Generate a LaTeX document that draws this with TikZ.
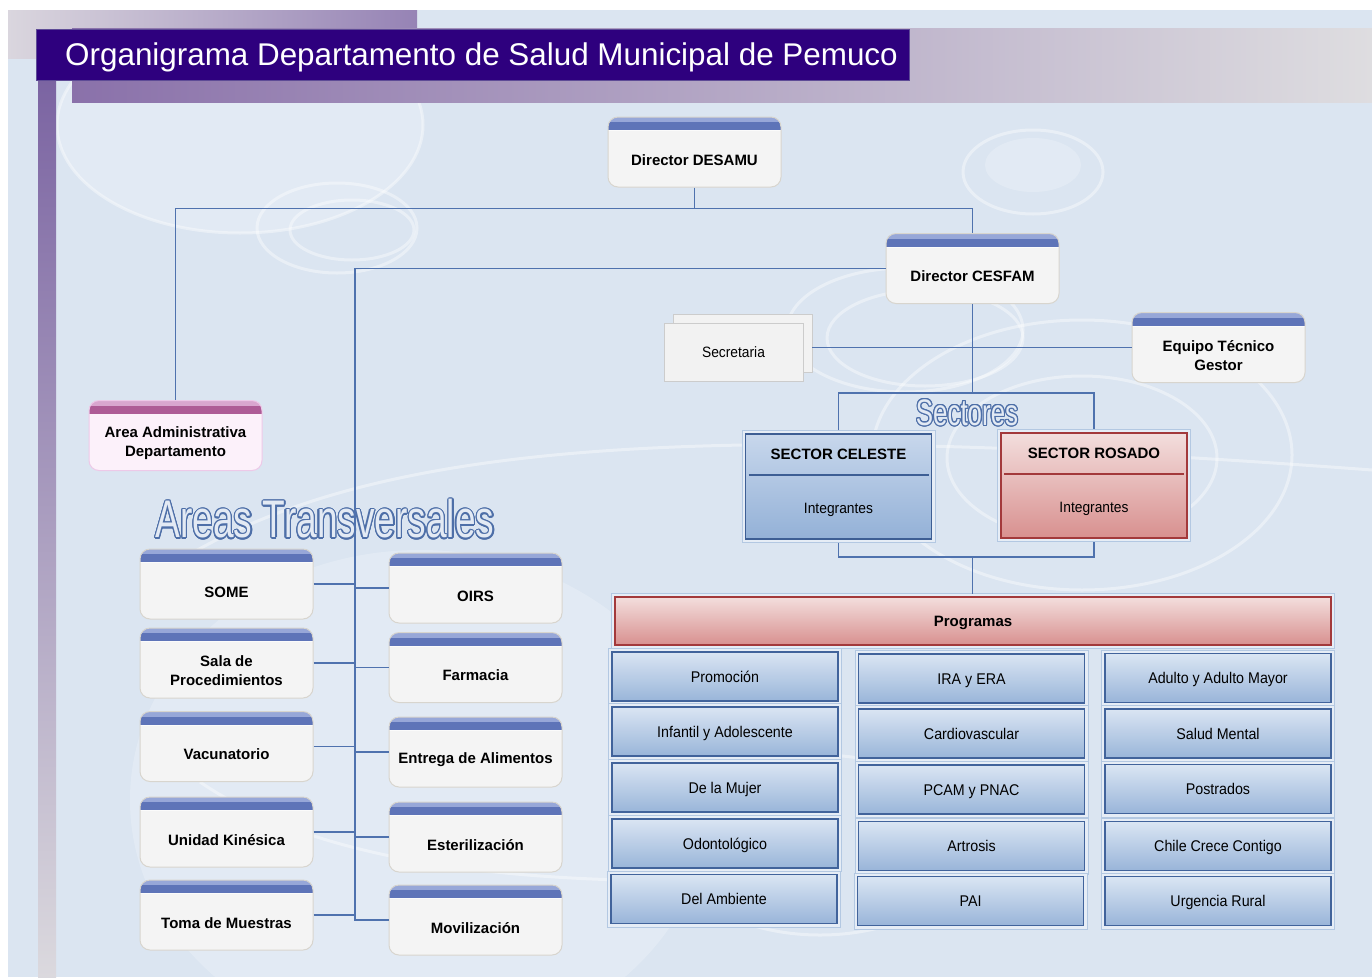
\documentclass[tikz,border=0pt]{standalone}
\usepackage{fontspec}
\setmainfont{Liberation Sans}
\newfontfamily\condfont[FakeStretch=0.7]{Liberation Sans}
\newfontfamily\progfont[FakeStretch=0.92]{Liberation Sans}
\usepackage{xcolor}

\definecolor{pagebg}{HTML}{DBE5F1}
\definecolor{bandgrey}{HTML}{DAD6DE}
\definecolor{bandpurple}{HTML}{9683B5}
\definecolor{bandpurplb}{HTML}{8A71AA}
\definecolor{bandgreyb}{HTML}{DEDDE0}
\definecolor{barpurple}{HTML}{7B64A2}
\definecolor{bargrey}{HTML}{DBD9DE}
\definecolor{titlefill}{HTML}{2E007E}
\definecolor{titleedge}{HTML}{5E4B96}
\definecolor{linkblue}{HTML}{4F72AE}
\definecolor{boxfill}{HTML}{F4F4F4}
\definecolor{boxedge}{HTML}{D8D5CE}
\definecolor{hdrtop}{HTML}{97A7D8}
\definecolor{hdrbot}{HTML}{5E74B8}
\definecolor{adminfill}{HTML}{FCF1FA}
\definecolor{adminedge}{HTML}{EDC9E8}
\definecolor{admintop}{HTML}{D9A6CF}
\definecolor{adminbot}{HTML}{AE5C96}
\definecolor{secfill}{HTML}{F2F2F2}
\definecolor{secedge}{HTML}{CCCCCC}
\definecolor{celestetop}{HTML}{C8D7EC}
\definecolor{celestebot}{HTML}{93B1D7}
\definecolor{celesteedge}{HTML}{3D5E94}
\definecolor{rosadotop}{HTML}{F3DEDD}
\definecolor{rosadobot}{HTML}{D8908F}
\definecolor{rosadoedge}{HTML}{A3393B}
\definecolor{progtop}{HTML}{DAE5F3}
\definecolor{progbot}{HTML}{99B5D9}
\definecolor{progedge}{HTML}{41639B}
\definecolor{framedge}{HTML}{B3C8E2}
\definecolor{framefill}{HTML}{E6EDF6}
\definecolor{outlineblue}{HTML}{4E6FA8}
\definecolor{outlinefill}{HTML}{E3EAF4}

\tikzset{
  link/.style={draw=linkblue, line width=1.3pt},
  ring/.style={draw=white, line width=3pt, opacity=.4},
  glow/.style={fill=white, opacity=.22},
  boxtxt/.style={font=\fontsize{15}{19}\selectfont\bfseries, align=center, yshift=-8pt},
  hdrbox/.style={rectangle, rounded corners=10pt, draw=boxedge, line width=1pt, fill=boxfill,
    minimum width=173pt, minimum height=70pt, inner sep=0pt,
    path picture={\fill[sharp corners, hdrbot]
      (path picture bounding box.north west) rectangle ([yshift=-13pt]path picture bounding box.north east);
      \fill[sharp corners, hdrtop]
      (path picture bounding box.north west) rectangle ([yshift=-5pt]path picture bounding box.north east);
      \draw[white, opacity=.7] ([yshift=-13.5pt]path picture bounding box.north west)
        -- ([yshift=-13.5pt]path picture bounding box.north east);},
    label={[boxtxt]center:{#1}}},
  adminbox/.style={hdrbox={#1}, draw=adminedge, fill=adminfill,
    path picture={\fill[sharp corners, adminbot]
      (path picture bounding box.north west) rectangle ([yshift=-13pt]path picture bounding box.north east);
      \fill[sharp corners, admintop]
      (path picture bounding box.north west) rectangle ([yshift=-5pt]path picture bounding box.north east);}},
  secbox/.style={rectangle, fill=secfill, draw=secedge, minimum width=139pt, minimum height=58pt,
    text height=11pt, text depth=0pt, font=\progfont\fontsize{15}{18}\selectfont},
  framed/.style={preaction={draw=framedge, line width=8pt}, preaction={draw=framefill, line width=6pt}},
  sectorbase/.style={rectangle, framed, minimum width=186pt, minimum height=105pt, inner sep=0pt,
    outer sep=4pt, line width=1.3pt},
  celestebox/.style={sectorbase, draw=celesteedge, top color=celestetop, bottom color=celestebot,
    path picture={\draw[celesteedge, line width=1.3pt]
      ([xshift=3pt,yshift=11.5pt]path picture bounding box.west) -- ([xshift=-3pt,yshift=11.5pt]path picture bounding box.east);}},
  rosadobox/.style={sectorbase, draw=rosadoedge, top color=rosadotop, bottom color=rosadobot,
    path picture={\draw[rosadoedge, line width=1.3pt]
      ([xshift=3pt,yshift=11.5pt]path picture bounding box.west) -- ([xshift=-3pt,yshift=11.5pt]path picture bounding box.east);}},
  sectortitle/.style={font=\fontsize{15}{18}\selectfont\bfseries, yshift=32pt},
  sectorsub/.style={font=\progfont\fontsize{15}{18}\selectfont, yshift=-23.5pt},
  banner/.style={rectangle, framed, draw=rosadoedge, line width=1.3pt, top color=rosadotop, bottom color=rosadobot,
    minimum width=716pt, minimum height=48pt, outer sep=3pt, text height=11pt, text depth=0pt,
    font=\fontsize{15}{18}\selectfont\bfseries},
  progbox/.style={rectangle, framed, draw=progedge, line width=1.3pt, top color=progtop, bottom color=progbot,
    minimum width=226pt, minimum height=49pt, text height=11pt, text depth=0pt,
    font=\progfont\fontsize{15.5}{18}\selectfont},
  bigword/.style={font=\condfont\fontsize{53}{60}\selectfont, inner sep=0pt},
  midword/.style={font=\condfont\fontsize{37}{42}\selectfont, inner sep=0pt}
}

\begin{document}
\begin{tikzpicture}[x=1pt,y=-1pt]
\useasboundingbox (0,0) rectangle (1372,977);
\fill[white] (0,0) rectangle (1372,977);
\fill[pagebg] (8,10) rectangle (1372,977);

% background rings
\fill[glow] (240,125) ellipse (183 and 108);
\draw[ring] (240,125) ellipse (183 and 108);
\draw[ring] (337,228) ellipse (80 and 45);
\draw[ring] (352,230) ellipse (62 and 30);
\draw[ring] (1033,172) ellipse (70 and 42);
\fill[glow] (1033,165) ellipse (48 and 27);
\draw[ring] (905,330) ellipse (118 and 62);
\draw[ring] (925,338) ellipse (98 and 48);
\draw[ring] (1082,455) ellipse (210 and 135);
\draw[ring] (1082,458) ellipse (135 and 82);
\fill[glow] (420,800) ellipse (290 and 250);
\draw[ring] (820,845) ellipse (150 and 90);
\draw[ring] (180,560) .. controls (380,440) and (700,420) .. (1372,470);
\draw[ring] (200,782) .. controls (300,850) and (450,875) .. (620,880);

% title bands
\shade[left color=bandgrey, right color=bandpurple] (8,10) rectangle (417,58);
\shade[left color=bandpurplb, right color=bandgreyb] (72,28) rectangle (1372,102);
\shade[top color=barpurple, bottom color=bargrey] (38,80) rectangle (56,977);
\filldraw[fill=titlefill, draw=titleedge] (36,29) rectangle (909,80);
\node[anchor=west, inner sep=0pt, text=white, text height=23pt, text depth=0pt,
  font=\fontsize{31.4}{36}\selectfont] (title) at (65,54) {Organigrama Departamento de Salud Municipal de Pemuco};

% directors
\node[hdrbox={Director DESAMU}] (desamu) at (694.5,152) {};
\node[hdrbox={Director CESFAM}] (cesfam) at (972.5,268.5) {};
\node[hdrbox={Equipo Técnico\\Gestor}] (equipo) at (1218.5,347.5) {};
\node[adminbox={Area Administrativa\\Departamento}] (admin) at (175.5,435.5) {};
\node[secbox] (secback) at (742.5,343.5) {};
\node[secbox] (secretaria) at (733.5,352) {Secretaria};

% areas transversales
\foreach \a [count=\i] in {0,22.5,...,337.5}
  \node[bigword, text=outlineblue] (areasrim\i) at ([shift={(\a:1.3)}]325,519) {Areas Transversales};
\node[bigword, text=outlinefill] (areas) at (325,519) {Areas Transversales};

\node[hdrbox=SOME] (some) at (226.5,584) {};
\node[hdrbox={Sala de\\Procedimientos}] (sala) at (226.5,663) {};
\node[hdrbox=Vacunatorio] (vacuna) at (226.5,746.5) {};
\node[hdrbox={Unidad Kinésica}] (kine) at (226.5,832) {};
\node[hdrbox={Toma de Muestras}] (toma) at (226.5,915) {};
\node[hdrbox=OIRS] (oirs) at (475.5,588) {};
\node[hdrbox=Farmacia] (farmacia) at (475.5,667.5) {};
\node[hdrbox={Entrega de Alimentos}] (entrega) at (475.5,752) {};
\node[hdrbox={Esterilización}] (esteril) at (475.5,837) {};
\node[hdrbox={Movilización}] (movil) at (475.5,920) {};

% sectores
\foreach \a [count=\i] in {0,22.5,...,337.5}
  \node[midword, text=outlineblue] (secrim\i) at ([shift={(\a:1.1)}]967,412.5) {Sectores};
\node[midword, text=outlinefill] (sectores) at (967,412.5) {Sectores};
\node[celestebox, label={[sectortitle]center:SECTOR CELESTE}, label={[sectorsub]center:Integrantes}]
  (celeste) at (838.5,486.5) {};
\node[rosadobox, label={[sectortitle]center:SECTOR ROSADO}, label={[sectorsub]center:Integrantes}]
  (rosado) at (1094,485.5) {};

% programas
\node[banner] (programas) at (973,621) {Programas};
\node[progbox] (promo) at (725,676.5) {Promoción};
\node[progbox] (infantil) at (725,731.5) {Infantil y Adolescente};
\node[progbox] (mujer) at (725,787.5) {De la Mujer};
\node[progbox] (odonto) at (725,843.5) {Odontológico};
\node[progbox] (ambiente) at (724,899) {Del Ambiente};
\node[progbox] (ira) at (971.5,678.5) {IRA y ERA};
\node[progbox] (cardio) at (971.5,733.5) {Cardiovascular};
\node[progbox] (pcam) at (971.5,789.5) {PCAM y PNAC};
\node[progbox] (artrosis) at (971.5,846) {Artrosis};
\node[progbox] (pai) at (970.5,901) {PAI};
\node[progbox] (adulto) at (1218,678) {Adulto y Adulto Mayor};
\node[progbox] (mental) at (1218,733.5) {Salud Mental};
\node[progbox] (postrados) at (1218,789) {Postrados};
\node[progbox] (chcc) at (1218,846) {Chile Crece Contigo};
\node[progbox] (urgencia) at (1218,901) {Urgencia Rural};

% connectors
\coordinate (spine) at (355,268.5);
\coordinate (sectop) at (972.5,393);
\coordinate (secbot) at (972.5,557);
\draw[link] (desamu.south) -- ++(0,21) coordinate (desamuknot);
\draw[link] (admin.north) |- (desamuknot) -| (cesfam.north);
\draw[link] (cesfam.west) -| (movil.west -| spine) -- (movil.west);
\draw[link] (some.east) -- (some.east -| spine);
\draw[link] (sala.east) -- (sala.east -| spine);
\draw[link] (vacuna.east) -- (vacuna.east -| spine);
\draw[link] (kine.east) -- (kine.east -| spine);
\draw[link] (toma.east) -- (toma.east -| spine);
\draw[link] (oirs.west) -- (oirs.west -| spine);
\draw[link] (farmacia.west) -- (farmacia.west -| spine);
\draw[link] (entrega.west) -- (entrega.west -| spine);
\draw[link] (esteril.west) -- (esteril.west -| spine);
\draw[link] (equipo.west) -- (equipo.west -| secback.east);
\draw[link] (cesfam.south) -- (sectop);
\draw[link] (celeste.north) |- (sectop) -| (rosado.north);
\draw[link] (celeste.south) |- (secbot) -| (rosado.south);
\draw[link] (secbot) -- (secbot |- programas.north);
\end{tikzpicture}
\end{document}
